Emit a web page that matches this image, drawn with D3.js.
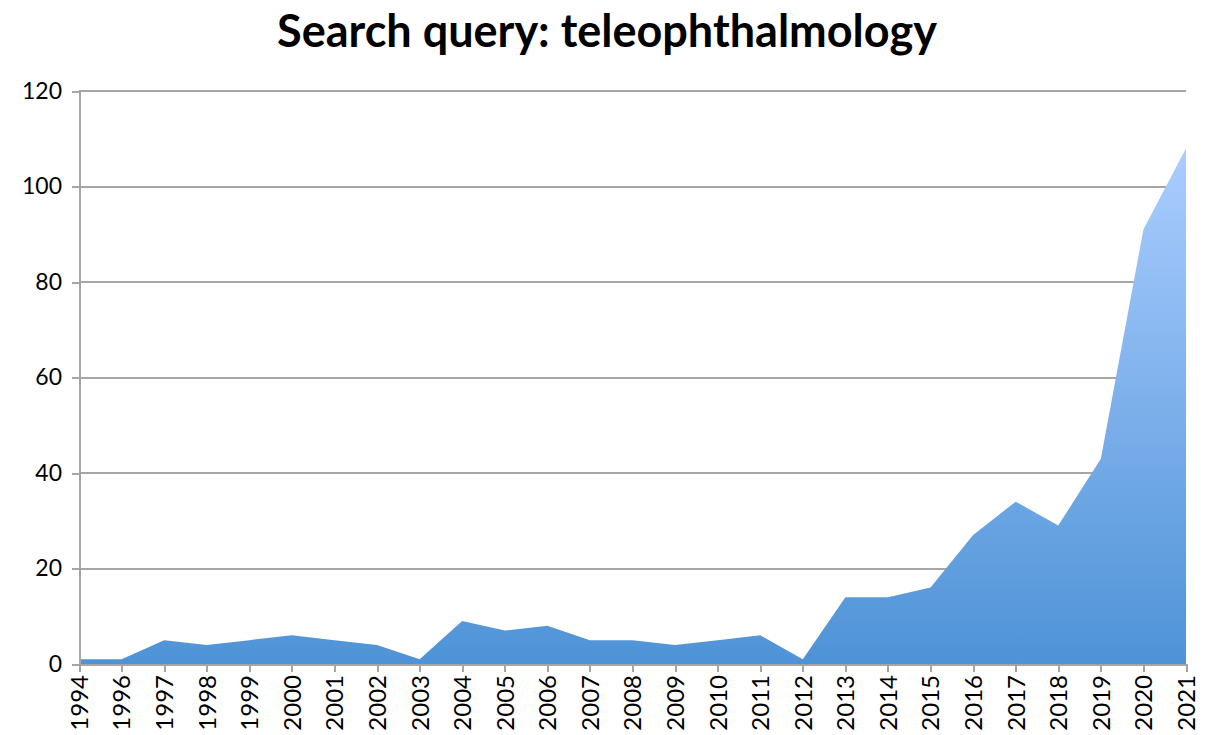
<!DOCTYPE html>
<html>
<head>
<meta charset="utf-8">
<title>Search query: teleophthalmology</title>
<script src="https://cdn.jsdelivr.net/npm/d3@7"></script>
<style>
	body { margin: 0; background: #fff; }
	text { font-family: Lato, "Open Sans", sans-serif; fill: #000; }
	.grid line { stroke: #a6a6a6; stroke-width: 2px; shape-rendering: crispEdges; }
	.axis path, .axis line { stroke: #a6a6a6; stroke-width: 2px; shape-rendering: crispEdges; }
</style>
</head>
<body>
<svg id="chart"></svg>
<script>
var years = ['1994','1996','1997','1998','1999','2000','2001','2002','2003','2004','2005','2006','2007',
	'2008','2009','2010','2011','2012','2013','2014','2015','2016','2017','2018','2019','2020','2021'];
var counts = [1,1,5,4,5,6,5,4,1,9,7,8,5,5,4,5,6,1,14,14,16,27,34,29,43,91,108];
var yTicks = [0,20,40,60,80,100,120];

var W = 1208, H = 735,
	margin = {top: 91, right: 22, bottom: 71, left: 79},
	width = W - margin.left - margin.right,
	height = H - margin.top - margin.bottom;

var svg = d3.select('#chart').attr('width', W).attr('height', H);

var defs = svg.append('defs');
var grad = defs.append('linearGradient')
	.attr('id', 'fillGrad')
	.attr('x1', 0).attr('y1', 0).attr('x2', 0).attr('y2', 1);
grad.append('stop').attr('offset', '0%').attr('stop-color', '#abcdff');
grad.append('stop').attr('offset', '100%').attr('stop-color', '#4e93d7');

var g = svg.append('g').attr('transform', 'translate(' + margin.left + ',' + margin.top + ')');

var x = d3.scalePoint().domain(years).range([0, width]);
var y = d3.scaleLinear().domain([0, 120]).range([height, 0]);

// horizontal gridlines
g.append('g').attr('class', 'grid')
	.selectAll('line').data(yTicks.filter(function(d){ return d > 0; }))
	.enter().append('line')
	.attr('x1', 0).attr('x2', width)
	.attr('y1', function(d){ return y(d); })
	.attr('y2', function(d){ return y(d); });

// area
var area = d3.area()
	.x(function(d, i){ return x(years[i]); })
	.y0(y(0))
	.y1(function(d){ return y(d); });

g.append('path')
	.datum(counts)
	.attr('d', area)
	.attr('fill', 'url(#fillGrad)');

// y axis
var yAxis = g.append('g').attr('class', 'axis')
	.call(d3.axisLeft(y).tickValues(yTicks).tickSize(7).tickPadding(10));
yAxis.selectAll('text').style('font-size', '23px');

// x axis
var xAxis = g.append('g').attr('class', 'axis')
	.attr('transform', 'translate(0,' + height + ')')
	.call(d3.axisBottom(x).tickSize(8).tickSizeOuter(0));
xAxis.selectAll('text')
	.style('font-size', '24px')
	.attr('text-anchor', 'end')
	.attr('dy', '0.35em')
	.attr('transform', 'rotate(-90)')
	.attr('x', -11)
	.attr('y', 0);

// title
svg.append('text')
	.attr('x', 607)
	.attr('y', 47)
	.attr('text-anchor', 'middle')
	.style('font-size', '45px')
	.style('font-weight', 'bold')
	.text('Search query: teleophthalmology');
</script>
</body>
</html>
